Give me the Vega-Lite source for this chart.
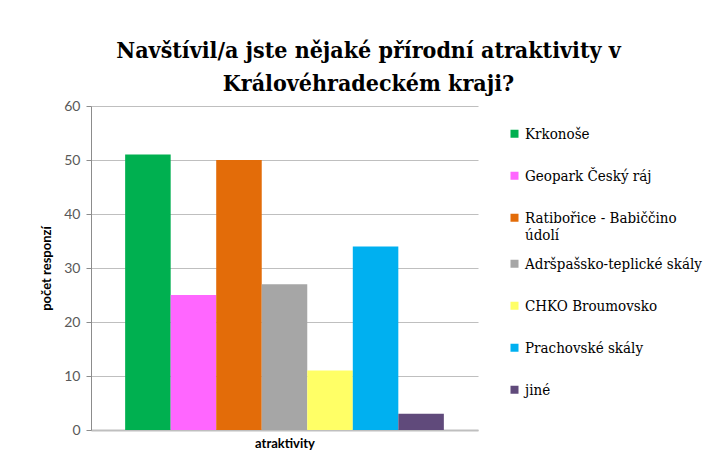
{
  "$schema": "https://vega.github.io/schema/vega-lite/v6.json",
  "autosize": {"type": "none"},
  "width": 387,
  "height": 324,
  "padding": {"left": 91, "top": 106, "right": 250, "bottom": 36},
  "background": "white",
  "title": {
    "text": ["Navštívil/a jste nějaké přírodní atraktivity v", "Královéhradeckém  kraji?"],
    "font": "DejaVu Serif Condensed",
    "fontSize": 23,
    "fontWeight": "bold",
    "color": "#000000",
    "anchor": "middle",
    "dx": 84,
    "offset": 3,
    "lineHeight": 33
  },
  "data": {
    "values": [
      {"name": "Krkonoše", "value": 51},
      {"name": "Geopark Český ráj", "value": 25},
      {"name": "Ratibořice - Babiččino údolí", "value": 50},
      {"name": "Adršpašsko-teplické skály", "value": 27},
      {"name": "CHKO Broumovsko", "value": 11},
      {"name": "Prachovské skály", "value": 34},
      {"name": "jiné", "value": 3}
    ]
  },
  "mark": {"type": "bar"},
  "encoding": {
    "x": {
      "field": "name",
      "type": "nominal",
      "sort": null,
      "scale": {"paddingInner": 0, "paddingOuter": 0.75},
      "axis": {
        "title": "atraktivity",
        "labels": false,
        "ticks": false,
        "domainColor": "#BFBFBF",
        "domainWidth": 2,
        "titleFont": "Lato",
        "titleFontSize": 13,
        "titleFontWeight": "bold",
        "titleColor": "#000000",
        "titlePadding": 7
      }
    },
    "y": {
      "field": "value",
      "type": "quantitative",
      "scale": {"domain": [0, 60]},
      "axis": {
        "title": "počet responzí",
        "values": [0, 10, 20, 30, 40, 50, 60],
        "grid": true,
        "gridColor": "#BFBFBF",
        "domainColor": "#8C8C8C",
        "tickColor": "#8C8C8C",
        "tickSize": 5,
        "labelFont": "Lato",
        "labelFontSize": 14,
        "labelColor": "#595959",
        "labelPadding": 6,
        "titleFont": "Lato",
        "titleFontSize": 13,
        "titleFontWeight": "bold",
        "titleColor": "#000000",
        "titlePadding": 10
      }
    },
    "color": {
      "field": "name",
      "type": "nominal",
      "sort": null,
      "scale": {
        "domain": ["Krkonoše", "Geopark Český ráj", "Ratibořice - Babiččino údolí", "Adršpašsko-teplické skály", "CHKO Broumovsko", "Prachovské skály", "jiné"],
        "range": ["#00B050", "#FF66FF", "#E36C09", "#A6A6A6", "#FFFF66", "#00B0F0", "#604A7B"]
      },
      "legend": {
        "title": null,
        "orient": "none",
        "legendX": 416,
        "legendY": 7,
        "symbolType": "square",
        "symbolSize": 64,
        "symbolStrokeWidth": 0,
        "labelFont": "DejaVu Serif Condensed",
        "labelFontSize": 15,
        "labelColor": "#000000",
        "labelOffset": 3,
        "labelLimit": 260,
        "clipHeight": 41.7,
        "rowPadding": 0,
        "labelExpr": "datum.label == 'Ratibořice - Babiččino údolí' ? ['Ratibořice - Babiččino', 'údolí'] : datum.label"
      }
    }
  },
  "config": {
    "view": {"stroke": null}
  }
}
